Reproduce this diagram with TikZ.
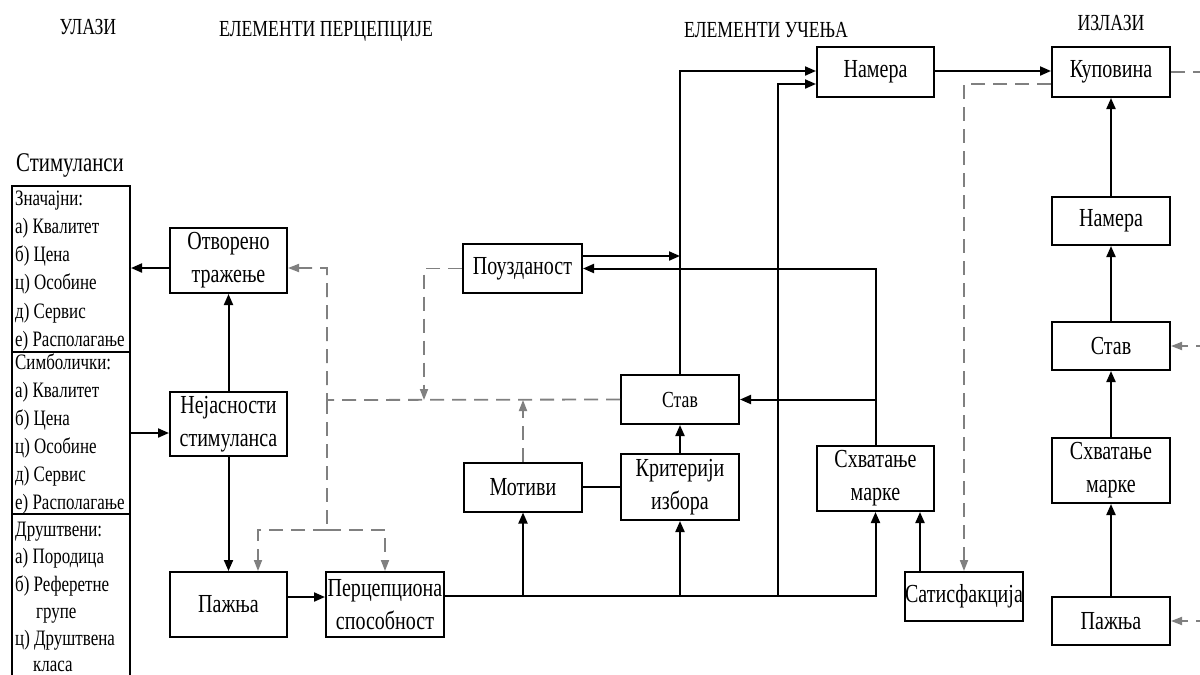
\documentclass[tikz,border=0pt]{standalone}
\usepackage{fontspec}
\setmainfont{Liberation Serif}[FakeStretch=0.77]
\usetikzlibrary{arrows.meta}
\begin{document}
\begin{tikzpicture}[x=1pt,y=-1pt,
  box/.style={draw, line width=2pt, inner sep=0pt, align=center,
    font=\fontsize{26}{33}\selectfont},
  sect/.style={draw, line width=2pt, inner sep=0pt, minimum width=118pt},
  listtxt/.style={anchor=base west, inner sep=0pt, font=\fontsize{22}{26}\selectfont},
  ttl/.style={anchor=base, inner sep=0pt, font=\fontsize{23}{27}\selectfont},
  conn/.style={line width=2pt},
  arr/.style={conn, -{Triangle[length=11pt,width=9pt]}},
  dashln/.style={line width=1.8pt, gray, dash pattern=on 14pt off 8pt},
  dasharr/.style={dashln, -{Triangle[length=11pt,width=8pt]}},
]
\fill[white] (0,0) rectangle (1200,675);
\useasboundingbox (0,0) rectangle (1200,675);
\clip (0,0) rectangle (1200,675);

% headings
\node[ttl] (hin)  at (88,34)   {УЛАЗИ};
\node[ttl] (hper) at (326,36)  {ЕЛЕМЕНТИ ПЕРЦЕПЦИЈЕ};
\node[ttl] (hlrn) at (766,37)  {ЕЛЕМЕНТИ УЧЕЊА};
\node[ttl] (hout) at (1111,30) {ИЗЛАЗИ};
\node[ttl, font=\fontsize{27}{31}\selectfont] (hstim) at (70,171) {Стимуланси};

% stimulus column
\node[sect, minimum height=166pt] (zn)  at (71,269) {};
\node[sect, minimum height=162pt] (sim) at (71,433) {};
\node[sect, minimum height=186pt] (dru) at (71,607) {};

\foreach \t [count=\i] in {Значајни:, а) Квалитет, б) Цена, ц) Особине, д) Сервис, е) Располагање}
  \node[listtxt] (za\i) at (15,{205+28.3*(\i-1)}) {\t};
\foreach \t [count=\i] in {Симболички:, а) Квалитет, б) Цена, ц) Особине, д) Сервис, е) Располагање}
  \node[listtxt] (si\i) at (15,{369+28*(\i-1)}) {\t};
\node[listtxt] (dr1) at (15,536) {Друштвени:};
\node[listtxt] (dr2) at (15,563) {а) Породица};
\node[listtxt] (dr3) at (15,591) {б) Реферетне};
\node[listtxt] (dr4) at (36,618) {групе};
\node[listtxt] (dr5) at (15,645) {ц) Друштвена};
\node[listtxt] (dr6) at (33,671) {класа};

% perception boxes
\node[box, minimum width=117pt, minimum height=65pt] (otv) at (228.5,260.5) {Отворено\\тражење};
\node[box, minimum width=117pt, minimum height=64pt] (nej) at (228.5,424) {Нејасности\\стимуланса};
\node[box, minimum width=117pt, minimum height=65pt] (paz) at (228.5,604.5) {Пажња};
\node[box, minimum width=118pt, minimum height=65pt] (per) at (385,604.5) {Перцепциона\\способност};

% learning boxes
\node[box, minimum width=119pt, minimum height=49pt] (pou)  at (522.5,268.5) {Поузданост};
\node[box, minimum width=118pt, minimum height=49pt, font=\fontsize{23}{30}\selectfont] (stav) at (680,399.5) {Став};
\node[box, minimum width=118pt, minimum height=49pt] (mot)  at (523,487) {Мотиви};
\node[box, minimum width=118pt, minimum height=66pt] (krit) at (680,487) {Критерији\\избора};
\node[box, minimum width=117pt, minimum height=50pt] (nam)  at (875.5,72) {Намера};
\node[box, minimum width=117pt, minimum height=65pt] (shv)  at (875.5,478.5) {Схватање\\марке};
\node[box, minimum width=118pt, minimum height=49pt] (sat)  at (964,596.5) {Сатисфакција};

% output boxes
\node[box, minimum width=118pt, minimum height=50pt] (kup)   at (1111,72) {Куповина};
\node[box, minimum width=118pt, minimum height=48pt] (nam2)  at (1111,221) {Намера};
\node[box, minimum width=118pt, minimum height=48pt] (stav2) at (1111,346) {Став};
\node[box, minimum width=118pt, minimum height=65pt] (shv2)  at (1111,470.5) {Схватање\\марке};
\node[box, minimum width=118pt, minimum height=48pt] (paz2)  at (1111,621) {Пажња};

\coordinate (jr) at (327,400);
\coordinate (js) at (327,530);

% solid connectors: perception
\draw[arr] (otv.west |- 0,268) -- (zn.east |- 0,268);
\draw[arr] (sim.east |- 0,433) -- (nej.west |- 0,433);
\draw[arr] (nej.north) -- (otv.south);
\draw[arr] (nej.south) -- (paz.north);
\draw[arr] (paz.east |- 0,597) -- (per.west |- 0,597);

% solid connectors: learning
\draw[arr] (per.east |- 0,596) -| (shv.south);
\draw[arr] (mot.south |- 0,596) -- (mot.south);
\draw[arr] (krit.south |- 0,596) -- (krit.south);
\draw[arr] (778,596) |- (nam.west |- 0,84);
\draw[conn] (mot.east) -- (krit.west);
\draw[arr] (krit.north) -- (stav.south);
\draw[arr] (stav.north) |- (nam.west |- 0,71);
\draw[arr] (pou.east |- 0,256) -- (stav.north |- 0,256);
\draw[arr] (shv.north) |- (pou.east);
\draw[arr] (shv.north |- stav.east) -- (stav.east);
\draw[arr] (sat.north -| 920,0) -- (shv.south -| 920,0);
\draw[arr] (nam.east |- 0,71) -- (kup.west |- 0,71);

% solid connectors: outputs
\draw[arr] (nam2.north) -- (kup.south);
\draw[arr] (stav2.north) -- (nam2.south);
\draw[arr] (shv2.north) -- (stav2.south);
\draw[arr] (paz2.north) -- (shv2.south);

% dashed feedback
\draw[dasharr] (stav.west) -- (jr) |- (otv.east |- 0,268);
\draw[dashln] (jr) -- (js);
\draw[dasharr] (js) -| (paz.north -| 258,0);
\draw[dasharr] (js) -| (per.north);
\draw[dasharr] (pou.west) -| (424,400);
\draw[dasharr] (mot.north) -- (mot.north |- 0,400);
\draw[dashln] (kup.east) -- (1210,72);
\draw[dasharr] (kup.west |- 0,84) -| (sat.north);
\draw[dasharr] (1210,346) -- (stav2.east);
\draw[dasharr] (1210,621) -- (paz2.east);
\end{tikzpicture}
\end{document}
